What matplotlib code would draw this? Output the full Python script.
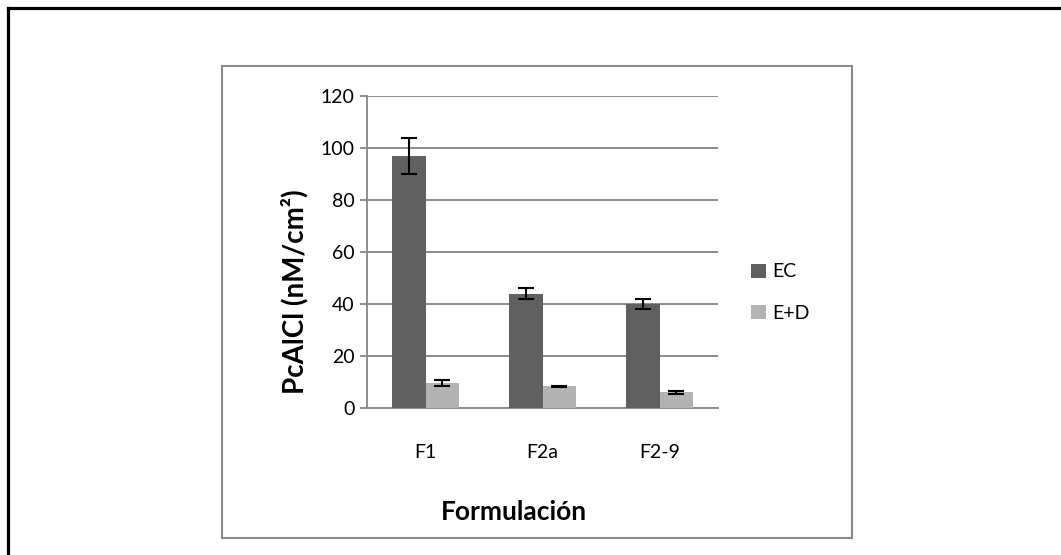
import numpy as np
import matplotlib.pyplot as plt
from matplotlib.patches import Rectangle
from matplotlib.lines import Line2D

plt.rcParams['font.family'] = ['Lato', 'DejaVu Sans']

categories = ['F1', 'F2a', 'F2-9']
ec_values = [97, 44, 40]
ec_err = [7, 2, 2]
ed_values = [9.6, 8.3, 6.0]
ed_err = [1.1, 0.3, 0.5]

W, H = 1061, 555
fig = plt.figure(figsize=(W / 100, H / 100), dpi=100)

# outer black frame (only top and left visible)
fig.add_artist(Line2D([8 / W, 8 / W], [0, 1 - 8 / H], transform=fig.transFigure,
                      color='black', lw=2.3))
fig.add_artist(Line2D([8 / W, 1], [1 - 8 / H, 1 - 8 / H], transform=fig.transFigure,
                      color='black', lw=2.3))

# inner gray chart-area box
fig.add_artist(Rectangle((222 / W, (H - 538) / H), 630 / W, 472 / H,
                         transform=fig.transFigure, fill=False,
                         edgecolor='#898989', lw=1.5))

ax = fig.add_axes([367 / W, (H - 408) / H, 351 / W, 312 / H])

x = np.arange(len(categories))
width = 0.283
err_kw = dict(ecolor='black', elinewidth=1.5, capsize=6, capthick=1.5)
ax.bar(x - width / 2, ec_values, width, yerr=ec_err, color='#606060',
       label='EC', error_kw=err_kw, zorder=3)
ax.bar(x + width / 2, ed_values, width, yerr=ed_err, color='#b3b3b3',
       label='E+D', error_kw=err_kw, zorder=3)

ax.set_xlim(-0.5, 2.5)
ax.set_ylim(0, 120)
ax.set_yticks(range(0, 121, 20))
ax.set_xticks(x)
ax.set_xticklabels(categories)
ax.grid(axis='y', color='#8c8c8c', lw=1.4, zorder=0)
ax.set_axisbelow(True)

for side in ['top', 'right']:
    ax.spines[side].set_visible(False)
for side in ['left', 'bottom']:
    ax.spines[side].set_color('#8c8c8c')
    ax.spines[side].set_linewidth(1.4)

ax.tick_params(axis='y', length=5, width=1.4, color='#8c8c8c', labelsize=14, pad=4)
ax.tick_params(axis='x', length=0, labelsize=14, pad=26)

ax.set_ylabel('PcAlCl (nM/cm²)', fontsize=20, fontweight='bold', va='center')
ax.yaxis.set_label_coords(-0.205, 0.372)
ax.set_xlabel('Formulación', fontsize=19, fontweight='bold', va='center')
ax.xaxis.set_label_coords(0.42, -0.333)

ax.legend(loc='center left', bbox_to_anchor=(1.045, 0.37), frameon=False,
          fontsize=14, handlelength=0.75, handleheight=0.75, handletextpad=0.35,
          labelspacing=1.25)

fig.savefig('out.png', dpi=100)
